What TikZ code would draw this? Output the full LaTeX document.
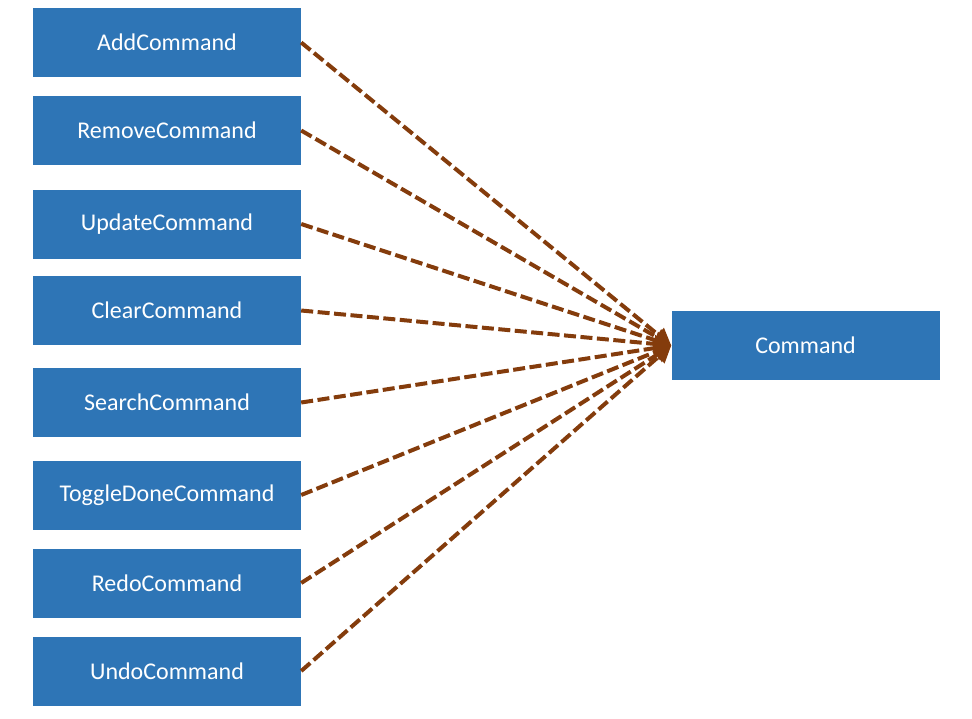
\documentclass[tikz,border=0pt]{standalone}
\usepackage{fontspec}
\setmainfont{Carlito}
\usetikzlibrary{arrows.meta}
\definecolor{cmdblue}{HTML}{2E75B6}
\definecolor{cmdbrown}{HTML}{843C0C}
\tikzset{
  cmdbox/.style={fill=cmdblue, text=white, minimum width=268pt, minimum height=69pt,
    inner sep=0pt, font=\fontsize{24}{28}\selectfont},
  realize/.style={draw=cmdbrown, line width=4pt, dash pattern=on 12pt off 4.5pt,
    -{Triangle[length=17pt,width=17pt]}}
}
\begin{document}
\begin{tikzpicture}[x=1pt,y=-1pt]
      \useasboundingbox (0,0) rectangle (972,718);
      \node[cmdbox] (C) at(805.5,345.5) {Command};
      \foreach \x/\y/\t in{1/42.5/AddCommand, 2/130.5/RemoveCommand, 3/224/UpdateCommand,
          4/310.5/ClearCommand, 5/402.5/SearchCommand, 6/495/ToggleDoneCommand,
          7/583/RedoCommand, 8/671/UndoCommand}{
        \node[cmdbox] (N\x) at(167,\y) {\t};
        \draw[realize](N\x.east)--(C.west);
      }
    \end{tikzpicture}
\end{document}
